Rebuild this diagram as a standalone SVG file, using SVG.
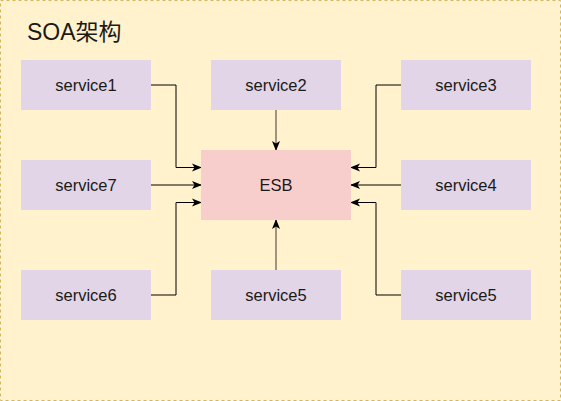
<svg xmlns="http://www.w3.org/2000/svg" width="561" height="401" viewBox="0 0 561 401">
<style>
.svc{fill:#e1d5e7;}
.esb{fill:#f8cecc;}
.lbl{font-family:"Liberation Sans",Arial,sans-serif;font-size:16.5px;fill:#1a1a1a;text-anchor:middle;}
.ln{fill:none;stroke:#000;stroke-width:1;}
.lg{fill:none;stroke:#6d6250;stroke-width:1.3;}
</style>
<defs>
<marker id="arr" viewBox="0 0 10 10" refX="9" refY="5" markerWidth="10" markerHeight="10" markerUnits="userSpaceOnUse" orient="auto">
<path d="M0,1 L10,5 L0,9 L2.5,5 Z" fill="#000"/>
</marker>
</defs>
<rect x="0.5" y="0.5" width="560" height="400" fill="#fff2cc" stroke="#d6b656" stroke-dasharray="3 3"/>
<text x="27" y="39.5" font-family="'Liberation Sans','Noto Sans CJK SC',sans-serif" font-size="23" fill="#1a1a1a">SOA架构</text>
<g id="connectors">
<polyline class="ln" points="151,85 176,85 176,167.5 201,167.5" marker-end="url(#arr)"/>
<polyline class="ln" points="151,185 201,185" marker-end="url(#arr)"/>
<polyline class="ln" points="151,295 176,295 176,202.5 201,202.5" marker-end="url(#arr)"/>
<polyline class="lg" points="276,110 276,150" marker-end="url(#arr)"/>
<polyline class="lg" points="276,270 276,220" marker-end="url(#arr)"/>
<polyline class="ln" points="401,85 376,85 376,167.5 351,167.5" marker-end="url(#arr)"/>
<polyline class="ln" points="401,185 351,185" marker-end="url(#arr)"/>
<polyline class="ln" points="401,295 376,295 376,202.5 351,202.5" marker-end="url(#arr)"/>
</g>
<g id="esb"><rect class="esb" x="201" y="150" width="150" height="70"/><text class="lbl" x="276" y="191">ESB</text></g>
<g id="service1"><rect class="svc" x="21" y="60" width="130" height="50"/><text class="lbl" x="86" y="91">service1</text></g>
<g id="service2"><rect class="svc" x="211" y="60" width="130" height="50"/><text class="lbl" x="276" y="91">service2</text></g>
<g id="service3"><rect class="svc" x="401" y="60" width="130" height="50"/><text class="lbl" x="466" y="91">service3</text></g>
<g id="service7"><rect class="svc" x="21" y="160" width="130" height="50"/><text class="lbl" x="86" y="191">service7</text></g>
<g id="service4"><rect class="svc" x="401" y="160" width="130" height="50"/><text class="lbl" x="466" y="191">service4</text></g>
<g id="service6"><rect class="svc" x="21" y="270" width="130" height="50"/><text class="lbl" x="86" y="301">service6</text></g>
<g id="service5a"><rect class="svc" x="211" y="270" width="130" height="50"/><text class="lbl" x="276" y="301">service5</text></g>
<g id="service5b"><rect class="svc" x="401" y="270" width="130" height="50"/><text class="lbl" x="466" y="301">service5</text></g>
</svg>
